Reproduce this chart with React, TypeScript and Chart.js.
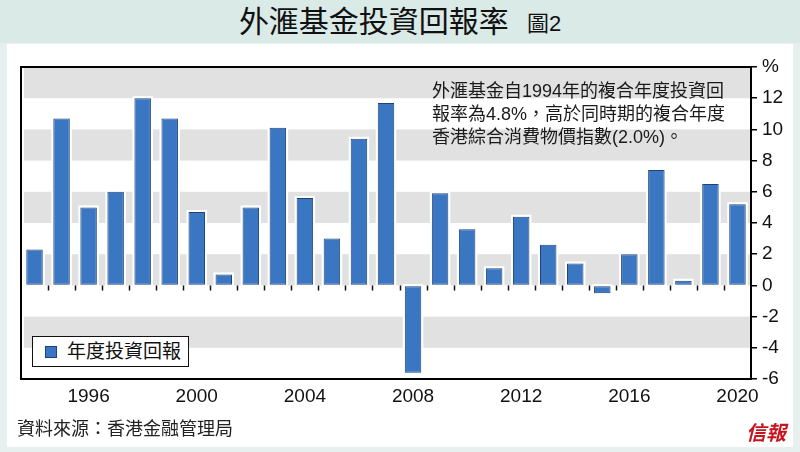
import React, { useEffect, useRef } from "react";
import { Chart, registerables } from "chart.js";

Chart.register(...registerables);

const titleText = "外滙基金投資回報率";
const figureLabel = "圖2";
const seriesName = "年度投資回報";
const sourceText = "資料來源：香港金融管理局";
const noteLines = [
  "外滙基金自1994年的複合年度投資回",
  "報率為4.8%，高於同時期的複合年度",
  "香港綜合消費物價指數(2.0%)。",
];

const years = [
  "1994", "1995", "1996", "1997", "1998", "1999", "2000", "2001", "2002",
  "2003", "2004", "2005", "2006", "2007", "2008", "2009", "2010", "2011",
  "2012", "2013", "2014", "2015", "2016", "2017", "2018", "2019", "2020",
];
const annualReturns = [
  2.3, 10.7, 5.0, 6.0, 12.0, 10.7, 4.7, 0.7, 5.0,
  10.1, 5.6, 3.0, 9.4, 11.7, -5.6, 5.9, 3.6, 1.1,
  4.4, 2.6, 1.4, -0.5, 2.0, 7.4, 0.3, 6.5, 5.2,
];
const labeledYears = ["1996", "2000", "2004", "2008", "2012", "2016", "2020"];
const yMin = -6;
const yMax = 14;
const yStep = 2;
const shadedBands = [
  [12, 14],
  [8, 10],
  [4, 6],
  [0, 2],
  [-4, -2],
];

const FONT = "'Liberation Sans', Arial, 'Noto Sans CJK TC', sans-serif";

const bandsPlugin = {
  id: "bands",
  beforeDraw(chart: any) {
    const { ctx, chartArea, scales } = chart;
    const y = scales.y;
    ctx.save();
    ctx.fillStyle = "#e1e1e1";
    for (const [a, b] of shadedBands) {
      const y1 = y.getPixelForValue(b);
      const y2 = y.getPixelForValue(a);
      ctx.fillRect(chartArea.left + 3, y1, chartArea.right - chartArea.left - 3, y2 - y1);
    }
    ctx.restore();
  },
  beforeDatasetsDraw(chart: any) {
    const { ctx } = chart;
    const meta = chart.getDatasetMeta(0);
    ctx.save();
    ctx.fillStyle = "#ffffff";
    for (const el of meta.data as any[]) {
      const top = Math.min(el.y, el.base);
      const bottom = Math.max(el.y, el.base);
      ctx.fillRect(el.x - el.width / 2 - 2, top - 2, el.width + 4, bottom - top + 4);
    }
    ctx.restore();
  },
  afterDraw(chart: any) {
    const { ctx, chartArea, scales } = chart;
    const y0 = scales.y.getPixelForValue(0);
    const n = years.length;
    const w = (chartArea.right - chartArea.left) / n;
    ctx.save();
    ctx.strokeStyle = "#111";
    ctx.lineWidth = 1.5;
    ctx.beginPath();
    for (let i = 1; i < n; i++) {
      const x = Math.round(chartArea.left + i * w) + 0.5;
      ctx.moveTo(x, y0);
      ctx.lineTo(x, y0 + 5);
    }
    ctx.stroke();
    ctx.lineWidth = 2;
    ctx.strokeStyle = "#000";
    ctx.strokeRect(chartArea.left, chartArea.top, chartArea.right - chartArea.left, chartArea.bottom - chartArea.top);
    ctx.restore();
  },
};

export default function App() {
  const ref = useRef<HTMLCanvasElement | null>(null);

  useEffect(() => {
    if (!ref.current) return;
    const chart = new Chart(ref.current, {
      type: "bar",
      data: {
        labels: years,
        datasets: [
          {
            label: seriesName,
            data: annualReturns,
            backgroundColor: "#3a76c2",
            borderColor: "#1d4479",
            borderWidth: 1,
            borderSkipped: false,
            categoryPercentage: 1,
            barPercentage: 0.61,
          },
        ],
      },
      options: {
        responsive: false,
        animation: false,
        devicePixelRatio: 1,
        layout: { padding: { left: 21, top: 67, right: 0, bottom: 0 } },
        plugins: {
          legend: { display: false },
          title: { display: false },
          tooltip: { enabled: false },
        },
        scales: {
          x: {
            position: "bottom",
            offset: true,
            grid: { display: false, drawTicks: false },
            border: { display: false },
            ticks: {
              autoSkip: false,
              maxRotation: 0,
              padding: 6,
              color: "#111",
              font: { family: FONT, size: 19 },
              callback: (_v: any, i: number) =>
                labeledYears.includes(years[i]) ? years[i] : "",
            },
            afterFit: (s: any) => {
              s.height = 73;
            },
          },
          y: {
            position: "right",
            min: yMin,
            max: yMax,
            grid: {
              drawOnChartArea: false,
              color: "#000",
              tickColor: "#000",
              tickLength: 6,
              lineWidth: 1.5,
            },
            border: { display: true, color: "#000", width: 2 },
            ticks: {
              stepSize: yStep,
              padding: 5,
              crossAlign: "near",
              color: "#111",
              font: { family: FONT, size: 19 },
              callback: (v: any) => (v === yMax ? "%" : String(v)),
            },
            afterFit: (s: any) => {
              s.width = 49;
            },
          },
        },
      },
      plugins: [bandsPlugin],
    } as any);
    return () => chart.destroy();
  }, []);

  return (
    <div
      style={{
        position: "fixed",
        left: 0,
        top: 0,
        width: 800,
        height: 452,
        background: "#e7f0ee",
        overflow: "hidden",
        fontFamily: FONT,
      }}
    >
      <div
        style={{
          position: "absolute",
          left: 0,
          top: 0,
          width: 800,
          height: 43,
          background: "#d9eae7",
          display: "flex",
          alignItems: "center",
          justifyContent: "center",
          color: "#111",
        }}
      >
        <span style={{ fontSize: 30, lineHeight: "30px" }}>{titleText}</span>
        <span style={{ fontSize: 22, lineHeight: "22px", marginLeft: 18, marginTop: 4 }}>
          {figureLabel}
        </span>
      </div>
      <div
        style={{
          position: "absolute",
          left: 7,
          top: 44,
          width: 786,
          height: 403,
          background: "#ffffff",
        }}
      />
      <canvas
        ref={ref}
        width={800}
        height={452}
        style={{ position: "absolute", left: 0, top: 0, width: 800, height: 452 }}
      />
      <div
        style={{
          position: "absolute",
          left: 432,
          top: 80,
          fontSize: 18,
          lineHeight: "23px",
          color: "#1a1a1a",
          whiteSpace: "nowrap",
        }}
      >
        {noteLines.map((l, i) => (
          <div key={i}>{l}</div>
        ))}
      </div>
      <div
        style={{
          position: "absolute",
          left: 32,
          top: 336,
          width: 155,
          height: 29,
          border: "1.5px solid #111",
          background: "#fff",
          display: "flex",
          alignItems: "center",
        }}
      >
        <span
          style={{
            display: "inline-block",
            width: 12,
            height: 12,
            background: "#3a76c2",
            border: "1px solid #1d4479",
            boxSizing: "border-box",
            marginLeft: 12,
            marginRight: 10,
          }}
        />
        <span style={{ fontSize: 19, lineHeight: "20px", color: "#111" }}>{seriesName}</span>
      </div>
      <div
        style={{
          position: "absolute",
          left: 17,
          top: 418,
          fontSize: 18,
          lineHeight: "22px",
          color: "#222",
          whiteSpace: "nowrap",
        }}
      >
        {sourceText}
      </div>
      <div
        style={{
          position: "absolute",
          left: 746,
          top: 422,
          fontSize: 20,
          lineHeight: "22px",
          color: "#c8141e",
          fontWeight: 700,
          fontStyle: "italic",
          whiteSpace: "nowrap",
        }}
      >
        信報
      </div>
    </div>
  );
}
